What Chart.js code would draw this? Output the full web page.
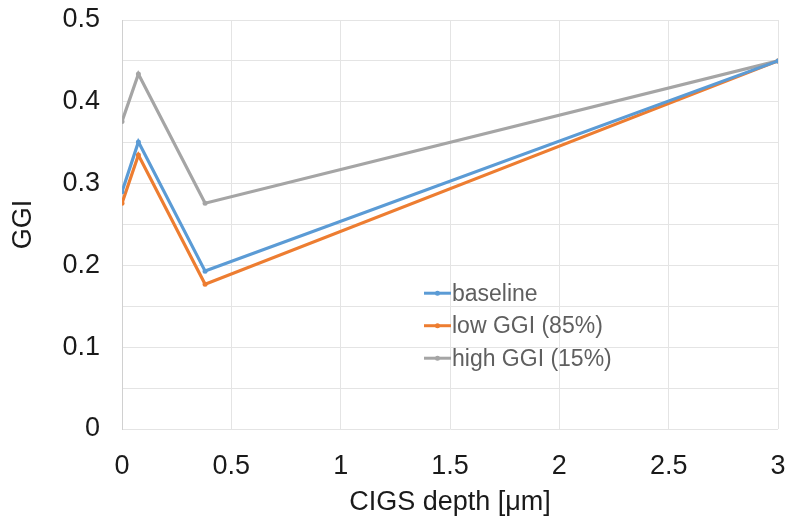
<!DOCTYPE html>
<html>
<head>
<meta charset="utf-8">
<script src="https://cdn.jsdelivr.net/npm/chart.js@4.4.0/dist/chart.umd.min.js"></script>
<style>
  html, body { margin: 0; padding: 0; background: #fff; }
  #wrap { width: 800px; height: 529px; }
</style>
</head>
<body>
<div id="wrap"><canvas id="chartCanvas" width="800" height="529"></canvas></div>
<script>
const seriesNames = ['baseline', 'low GGI (85%)', 'high GGI (15%)'];
const depth = [0, 0.075, 0.38, 3];
const baseline = [0.29, 0.351, 0.193, 0.45];
const lowGGI = [0.276, 0.335, 0.177, 0.45];
const highGGI = [0.376, 0.434, 0.276, 0.45];
const seriesColors = ['#5b9bd5', '#ed7d31', '#a5a5a5'];

const FONT = "'Liberation Sans', Arial, sans-serif";

function toPoints(values) {
    return depth.map((x, i) => ({ x: x, y: values[i] }));
}

// legend drawn inside the plot area like the original
const insideLegend = {
    id: 'insideLegend',
    afterDraw(chart) {
        const ctx = chart.ctx;
        const x0 = chart.scales.x.getPixelForValue(1.381);
        const yStart = chart.scales.y.getPixelForValue(0.166);
        const rowGap = 32.5;
        ctx.save();
        ctx.font = '23px ' + FONT;
        ctx.textBaseline = 'middle';
        chart.data.datasets.forEach((ds, i) => {
            const y = yStart + i * rowGap;
            ctx.strokeStyle = ds.borderColor;
            ctx.lineWidth = 3;
            ctx.beginPath();
            ctx.moveTo(x0, y);
            ctx.lineTo(x0 + 27, y);
            ctx.stroke();
            ctx.fillStyle = ds.borderColor;
            ctx.beginPath();
            ctx.arc(x0 + 13.5, y, 2.5, 0, Math.PI * 2);
            ctx.fill();
            ctx.fillStyle = '#5f5f5f';
            ctx.fillText(ds.label, x0 + 28, y + 1);
        });
        ctx.restore();
    }
};

const datasets = [baseline, lowGGI, highGGI].map((vals, i) => ({
    label: seriesNames[i],
    data: toPoints(vals),
    borderColor: seriesColors[i],
    backgroundColor: seriesColors[i],
    borderWidth: 3.2,
    pointRadius: 2.5,
    pointBorderWidth: 0,
    tension: 0
}));

new Chart(document.getElementById('chartCanvas').getContext('2d'), {
    type: 'line',
    data: { datasets: datasets },
    options: {
        responsive: false,
        animation: false,
        layout: { padding: { left: 0, right: 22, top: 20, bottom: 0 } },
        plugins: { legend: { display: false }, tooltip: { enabled: false } },
        scales: {
            x: {
                type: 'linear',
                min: 0,
                max: 3,
                afterFit: (scale) => {
                    scale.height = 100;
                    scale.paddingLeft = 0;
                    scale.paddingRight = 0;
                },
                ticks: {
                    stepSize: 0.5,
                    padding: 21,
                    color: '#1a1a1a',
                    font: { family: FONT, size: 27 },
                    callback: (v) => String(v)
                },
                grid: { color: '#e4e4e4', lineWidth: 1, drawTicks: false },
                border: { display: false },
                title: {
                    display: true,
                    text: 'CIGS depth [μm]',
                    color: '#1a1a1a',
                    font: { family: FONT, size: 27 },
                    padding: { top: 0, bottom: 10 }
                }
            },
            y: {
                min: 0,
                max: 0.5,
                afterFit: (scale) => {
                    scale.width = 122;
                    scale.paddingTop = 0;
                    scale.paddingBottom = 0;
                },
                ticks: {
                    stepSize: 0.05,
                    padding: 22,
                    color: '#1a1a1a',
                    font: { family: FONT, size: 27 },
                    callback: (v) => {
                        const r = Math.round(v * 100);
                        return r % 10 === 0 ? String(r / 100) : '';
                    }
                },
                grid: { color: '#e4e4e4', lineWidth: 1, drawTicks: false },
                border: { display: true, color: '#d0d0d0' },
                title: {
                    display: true,
                    text: 'GGI',
                    color: '#1a1a1a',
                    font: { family: FONT, size: 27 },
                    padding: { top: 7, bottom: 0 }
                }
            }
        }
    },
    plugins: [insideLegend]
});
</script>
</body>
</html>
